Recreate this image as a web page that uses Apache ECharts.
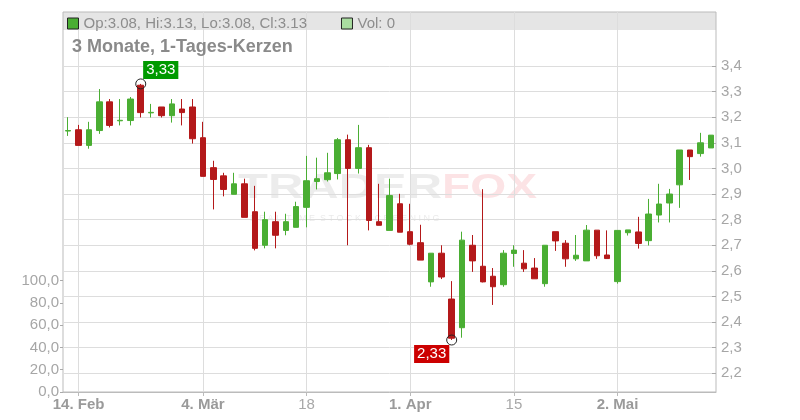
<!DOCTYPE html>
<html>
<head>
<meta charset="utf-8">
<script src="https://cdn.jsdelivr.net/npm/echarts@6/dist/echarts.min.js"></script>
<style>
html,body{margin:0;padding:0;background:#fff;}
#c{width:800px;height:420px;}
</style>
</head>
<body>
<div id="c"></div>
<script>
// Trading days (13 Feb - 15 May 2019)
const dates = [
 '2019-02-13','2019-02-14','2019-02-15','2019-02-18','2019-02-19','2019-02-20','2019-02-21','2019-02-22','2019-02-25','2019-02-26','2019-02-27','2019-02-28',
 '2019-03-01','2019-03-04','2019-03-05','2019-03-06','2019-03-07','2019-03-08','2019-03-11','2019-03-12','2019-03-13','2019-03-14','2019-03-15',
 '2019-03-18','2019-03-19','2019-03-20','2019-03-21','2019-03-22','2019-03-25','2019-03-26','2019-03-27','2019-03-28','2019-03-29',
 '2019-04-01','2019-04-02','2019-04-03','2019-04-04','2019-04-05','2019-04-08','2019-04-09','2019-04-10','2019-04-11','2019-04-12',
 '2019-04-15','2019-04-16','2019-04-17','2019-04-18','2019-04-23','2019-04-24','2019-04-25','2019-04-26','2019-04-29','2019-04-30',
 '2019-05-02','2019-05-03','2019-05-06','2019-05-07','2019-05-08','2019-05-09','2019-05-10','2019-05-13','2019-05-14','2019-05-15'
];
// [open, close, low, high]
const ohlc = [
 [3.146,3.148,3.127,3.200],[3.151,3.090,3.090,3.170],[3.090,3.151,3.077,3.182],[3.148,3.260,3.135,3.310],
 [3.260,3.168,3.160,3.271],[3.186,3.188,3.168,3.271],[3.187,3.271,3.168,3.279],[3.325,3.218,3.199,3.330],
 [3.217,3.219,3.199,3.252],[3.240,3.206,3.199,3.240],[3.206,3.252,3.179,3.271],[3.232,3.218,3.168,3.271],
 [3.240,3.116,3.097,3.271],[3.120,2.969,2.969,3.182],[3.003,2.957,2.840,3.030],[2.971,2.918,2.891,2.983],
 [2.899,2.940,2.899,2.983],[2.940,2.809,2.809,2.960],[2.831,2.688,2.680,2.932],[2.700,2.800,2.688,2.831],
 [2.792,2.739,2.688,2.831],[2.758,2.792,2.739,2.823],[2.770,2.851,2.770,2.870],[2.848,2.952,2.770,3.049],
 [2.949,2.960,2.918,3.042],[2.956,2.983,2.949,3.061],[2.980,3.112,2.957,3.119],[3.112,3.000,2.700,3.132],
 [3.000,3.081,2.980,3.170],[3.081,2.797,2.758,3.092],[2.792,2.778,2.778,2.940],[2.758,2.894,2.758,2.960],
 [2.862,2.751,2.751,2.901],[2.753,2.704,2.700,2.862],[2.710,2.642,2.642,2.780],[2.557,2.669,2.538,2.669],
 [2.669,2.576,2.568,2.700],[2.490,2.337,2.330,2.560],[2.378,2.720,2.339,2.753],[2.700,2.639,2.596,2.740],
 [2.618,2.557,2.555,2.919],[2.579,2.538,2.467,2.611],[2.546,2.669,2.538,2.681],[2.668,2.681,2.616,2.700],
 [2.630,2.608,2.596,2.681],[2.611,2.569,2.569,2.650],[2.550,2.700,2.538,2.700],[2.753,2.717,2.678,2.753],
 [2.708,2.647,2.616,2.720],[2.647,2.661,2.639,2.740],[2.639,2.759,2.639,2.779],[2.759,2.659,2.647,2.759],
 [2.662,2.648,2.648,2.758],[2.558,2.758,2.550,2.758],[2.749,2.760,2.738,2.760],[2.752,2.707,2.687,2.811],
 [2.718,2.822,2.699,2.881],[2.818,2.861,2.789,2.940],[2.865,2.900,2.789,2.920],[2.936,3.072,2.846,3.072],
 [3.072,3.046,2.955,3.072],[3.058,3.100,3.046,3.139],[3.080,3.130,3.080,3.130]
];
const volumes = new Array(dates.length).fill(0);
const tickDates = ['2019-02-14','2019-03-04','2019-03-18','2019-04-01','2019-04-15','2019-05-02'];
const tickTexts = ['14. Feb','4. Mär','18','1. Apr','15','2. Mai'];
const tickBold  = [true,true,false,true,false,true];

const last = ohlc[ohlc.length-1];
const f2 = v => v.toFixed(2);
const seriesName = 'Op:' + f2(last[0]) + ', Hi:' + f2(last[3]) + ', Lo:' + f2(last[2]) + ', Cl:' + f2(last[1]);
const volName = 'Vol: ' + volumes[volumes.length-1];

const UP = '#4aae33', DOWN = '#b4191a';
const FONT = '"Liberation Sans", Arial, sans-serif';
const isTick = (i, v) => tickDates.indexOf(dates[i] !== undefined ? dates[i] : v) >= 0;
const comma1 = v => v.toFixed(1).replace('.', ',');

const chart = echarts.init(document.getElementById('c'), null, {renderer: 'canvas'});
chart.setOption({
  animation: false,
  textStyle: {fontFamily: FONT},
  title: {
    text: '3 Monate, 1-Tages-Kerzen', left: 72, top: 38, padding: 0,
    textStyle: {fontSize: 18, fontWeight: 'bold', color: '#8a8a8a', fontFamily: FONT}
  },
  legend: {
    left: 67, top: 16, padding: 0, itemWidth: 11, itemHeight: 11, itemGap: 34,
    selectedMode: false,
    textStyle: {fontSize: 15, color: '#8d8d8d', fontFamily: FONT},
    data: [
      {name: seriesName, icon: 'rect', itemStyle: {color: UP, borderColor: '#222', borderWidth: 1}},
      {name: volName, icon: 'rect', itemStyle: {color: '#a9dca0', borderColor: '#222', borderWidth: 1}}
    ]
  },
  graphic: [
    {type: 'rect', z: -10, silent: true, shape: {x: 63, y: 12, width: 653, height: 18}, style: {fill: '#e5e5e5'}},
    {type: 'text', z: -5, silent: true, x: 238, y: 188, scaleX: 1.4,
      style: {text: 'TRADER', fontSize: 35, fontWeight: 'bold', fontFamily: FONT, fill: 'rgba(0,0,0,0.075)', verticalAlign: 'middle'}},
    {type: 'text', z: -5, silent: true, x: 442, y: 188, scaleX: 1.32,
      style: {text: 'FOX', fontSize: 35, fontWeight: 'bold', fontFamily: FONT, fill: 'rgba(235,70,80,0.15)', verticalAlign: 'middle'}},
    {type: 'text', z: -5, silent: true, x: 250, y: 219,
      style: {text: 'R E A L  T I M E  S T O C K  S C R E E N I N G', fontSize: 9, fontFamily: FONT, fill: 'rgba(0,0,0,0.09)', verticalAlign: 'middle'}}
  ],
  grid: [
    {left: 63, right: 84, top: 12, bottom: 28, show: true, borderColor: '#bbbbbb', borderWidth: 1, backgroundColor: 'transparent'},
    {left: 63, right: 84, top: 66, bottom: 46.7},
    {left: 63, right: 84, top: 280.6, bottom: 28}
  ],
  xAxis: [
    {
      type: 'category', gridIndex: 0, data: dates, boundaryGap: true,
      axisLine: {show: true, lineStyle: {color: '#bbbbbb'}},
      axisTick: {show: true, interval: isTick, alignWithLabel: true, length: 4, lineStyle: {color: '#bbbbbb'}},
      axisLabel: {
        show: true, interval: isTick, margin: 5,
        formatter: (v) => {
          const k = tickDates.indexOf(v);
          if (k < 0) return '';
          return tickBold[k] ? '{b|' + tickTexts[k] + '}' : '{n|' + tickTexts[k] + '}';
        },
        rich: {
          b: {fontSize: 15, fontWeight: 'bold', color: '#9a9a9a', fontFamily: FONT},
          n: {fontSize: 15, color: '#a8a8a8', fontFamily: FONT}
        }
      },
      splitLine: {show: true, interval: isTick, alignWithLabel: true, lineStyle: {color: '#dddddd', width: 1}}
    },
    {type: 'category', gridIndex: 1, data: dates, boundaryGap: true, show: false},
    {type: 'category', gridIndex: 2, data: dates, boundaryGap: true, show: false}
  ],
  yAxis: [
    {type: 'value', gridIndex: 0, show: false, min: 0, max: 1, splitLine: {show: false}},
    {
      type: 'value', gridIndex: 1, position: 'right', min: 2.2, max: 3.4, interval: 0.1, scale: true,
      axisLine: {show: false},
      axisTick: {show: true, inside: true, length: 4, lineStyle: {color: '#aaaaaa'}},
      axisLabel: {show: true, margin: 5, fontSize: 15, color: '#a6a6a6', formatter: comma1},
      splitLine: {show: true, lineStyle: {color: '#dddddd', width: 1}}
    },
    {
      type: 'value', gridIndex: 2, position: 'left', min: 0, max: 100, interval: 20,
      axisLine: {show: false},
      axisTick: {show: true, inside: false, length: 3, lineStyle: {color: '#aaaaaa'}},
      axisLabel: {show: true, margin: 4, fontSize: 15, color: '#a6a6a6', formatter: comma1},
      splitLine: {show: false}
    }
  ],
  series: [
    {
      name: seriesName, type: 'candlestick', xAxisIndex: 1, yAxisIndex: 1,
      data: ohlc, barWidth: 6,
      itemStyle: {color: UP, color0: DOWN, borderColor: UP, borderColor0: DOWN, borderWidth: 1},
      markPoint: {
        symbol: 'circle', symbolSize: 10, silent: true,
        itemStyle: {color: 'rgba(255,255,255,0)', borderColor: '#222', borderWidth: 1},
        label: {
          show: true, position: 'inside', color: '#ffffff', fontSize: 15, fontFamily: FONT,
          padding: [2, 3, 1, 3], lineHeight: 15,
          formatter: p => p.value.toFixed(2).replace('.', ',')
        },
        data: [
          {type: 'max', valueDim: 'highest', label: {offset: [20, -14], backgroundColor: '#009a00'}},
          {type: 'min', valueDim: 'lowest', label: {offset: [-20, 14], backgroundColor: '#cc0000'}}
        ]
      }
    },
    {
      name: volName, type: 'bar', xAxisIndex: 2, yAxisIndex: 2, data: volumes, barWidth: 6,
      itemStyle: {color: '#a9dca0'}
    }
  ]
});
</script>
</body>
</html>
